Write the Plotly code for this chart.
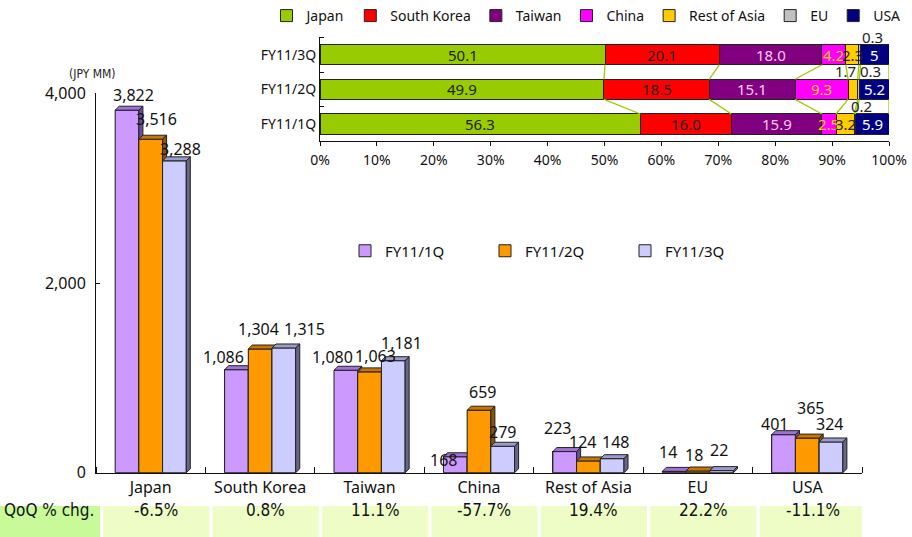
import plotly.graph_objects as go

# ---------------- data ----------------
regions = ["Japan", "South Korea", "Taiwan", "China", "Rest of Asia", "EU", "USA"]
quarters = ["FY11/1Q", "FY11/2Q", "FY11/3Q"]
sales_1q = [3822, 1086, 1080, 168, 223, 14, 401]
sales_2q = [3516, 1304, 1063, 659, 124, 18, 365]
sales_3q = [3288, 1315, 1181, 279, 148, 22, 324]
y_ticks = [0, 2000, 4000]
qoq_labels = ["-6.5%", "0.8%", "11.1%", "-57.7%", "19.4%", "22.2%", "-11.1%"]

# composition (%) per quarter: 1Q, 2Q, 3Q
share_japan = [56.3, 49.9, 50.1]
share_korea = [16.0, 18.5, 20.1]
share_taiwan = [15.9, 15.1, 18.0]
share_china = [2.5, 9.3, 4.2]
share_rest_asia = [3.2, 1.7, 2.3]
share_eu = [0.2, 0.3, 0.3]
share_usa = [5.9, 5.2, 5.0]
share_usa_text = ["5.9", "5.2", "5"]
pct_ticks = [0, 10, 20, 30, 40, 50, 60, 70, 80, 90, 100]

# label placement nudges (px) for the value labels of the main chart (style only)
label_dx = [[4, -15, -15, -14, -9, -8, -11],
            [4, -4, 4, 1, -8, -6, 1],
            [4, 19, 6, -2, 1, -5, -3]]
label_up = [[15, 13, 13, -3, 24, 19, 11],
            [20, 20, 16, 18, 19, 16, 30],
            [12, 19, 18, 14, 17, 21, 18]]

W, H = 912, 537
FONT = "Noto Sans, DejaVu Sans, sans-serif"
NARROW = "DejaVu Sans Condensed, Liberation Sans Narrow, sans-serif"

fig = go.Figure()

# ---------------- main 3D-look bar chart ----------------
series = [
    ("FY11/1Q", sales_1q, "#CC99FF", "#9E72D6", "#6A4C9C"),
    ("FY11/2Q", sales_2q, "#FF9900", "#C77700", "#8A5400"),
    ("FY11/3Q", sales_3q, "#CCCCFF", "#9C9CCC", "#66668C"),
]
bw = 0.2166          # bar width in category units
dx = 0.037           # depth (x) in category units
dy = 42              # depth (y) in data units
offsets = [-bw, 0.0, bw]

for (name, vals, cf, ct, cs), off in zip(series, offsets):
    xs = [j + off for j in range(len(regions))]
    fig.add_trace(go.Bar(
        x=xs, y=vals, width=bw, name=name, legend="legend",
        marker=dict(color=cf, line=dict(color="#222", width=1)),
        hoverinfo="skip"))

# faces drawn as polygons (per series in order so later fronts cover earlier sides)
for (name, vals, cf, ct, cs), off in zip(series, offsets):
    fx, fy, tx, ty, sx, sy = [], [], [], [], [], []
    for j, v in enumerate(vals):
        c = j + off
        l, r = c - bw / 2, c + bw / 2
        fx += [l, r, r, l, l, None]
        fy += [0, 0, v, v, 0, None]
        tx += [l, r, r + dx, l + dx, l, None]
        ty += [v, v, v + dy, v + dy, v, None]
        sx += [r, r + dx, r + dx, r, r, None]
        sy += [0, dy, v + dy, v, 0, None]
    for px, py, col in ((fx, fy, cf), (tx, ty, ct), (sx, sy, cs)):
        fig.add_trace(go.Scatter(
            x=px, y=py, mode="lines", fill="toself", fillcolor=col,
            line=dict(color="#222", width=1), showlegend=False, hoverinfo="skip"))

annotations = []
for si, ((name, vals, cf, ct, cs), off) in enumerate(zip(series, offsets)):
    for j, v in enumerate(vals):
        annotations.append(dict(
            x=j + off, y=v, xref="x", yref="y", text=f"{v:,}", showarrow=False,
            yanchor="middle", xshift=2 + label_dx[si][j], yshift=label_up[si][j],
            font=dict(size=16, color="#111", family=FONT)))

# ---------------- inset: composition stacked bars ----------------
comp = [
    ("Japan", share_japan, "#99CC00", "#222", [f"{v:.1f}" for v in share_japan]),
    ("South Korea", share_korea, "#FF0000", "#222", [f"{v:.1f}" for v in share_korea]),
    ("Taiwan", share_taiwan, "#800080", "#FFCCF0", [f"{v:.1f}" for v in share_taiwan]),
    ("China", share_china, "#FF00FF", "#FFD000", [f"{v:.1f}" for v in share_china]),
    ("Rest of Asia", share_rest_asia, "#FFCC00", "#222", [f"{v:.1f}" for v in share_rest_asia]),
    ("EU", share_eu, "#C0C0C0", "#222", [f"{v:.1f}" for v in share_eu]),
    ("USA", share_usa, "#000080", "#FFFFFF", share_usa_text),
]
rows = [0, 1, 2]
bh = 0.58
for name, vals, col, tcol, txt in comp:
    fig.add_trace(go.Bar(
        x=vals, y=rows, orientation="h", width=bh, name=name, legend="legend2",
        xaxis="x2", yaxis="y2",
        marker=dict(color=col, line=dict(color="#222", width=1)),
        hoverinfo="skip"))

# cumulative boundaries & connector lines
cums = []
run = [0.0, 0.0, 0.0]
for name, vals, col, tcol, txt in comp:
    starts = run[:]
    run = [a + b for a, b in zip(run, vals)]
    cums.append((starts, run[:]))

lx, ly = [], []
for r in (0, 1):
    for starts, ends in cums:
        lx += [ends[r], ends[r + 1], None]
        ly += [r + bh / 2, r + 1 - bh / 2, None]
fig.add_trace(go.Scatter(x=lx, y=ly, xaxis="x2", yaxis="y2", mode="lines",
                         line=dict(color="#99CC00", width=1.3),
                         showlegend=False, hoverinfo="skip"))

above = {("EU", 0): 7, ("EU", 1): 12, ("EU", 2): 13, ("Rest of Asia", 1): -7}
for (name, vals, col, tcol, txt), (starts, ends) in zip(comp, cums):
    for r in rows:
        cx = (starts[r] + ends[r]) / 2
        if (name, r) in above:
            annotations.append(dict(
                x=cx, y=r + bh / 2, xref="x2", yref="y2", text=txt[r],
                showarrow=False, yanchor="bottom", xshift=above[(name, r)], yshift=-4,
                font=dict(size=15, color="#222", family=FONT)))
        else:
            annotations.append(dict(
                x=cx, y=r, xref="x2", yref="y2", text=txt[r], showarrow=False,
                font=dict(size=15, color=tcol, family=FONT)))

# ---------------- QoQ table row ----------------
shapes = [dict(type="rect", xref="paper", yref="paper", x0=0, x1=100 / W,
               y0=0, y1=31 / H, fillcolor="#C8FA9A", line=dict(width=0), layer="below")]
annotations.append(dict(x=2 / W, y=15.5 / H, xref="paper", yref="paper", text="QoQ % chg.",
                        showarrow=False, xanchor="left",
                        font=dict(size=17, color="#111", family=NARROW)))
for j, t in enumerate(qoq_labels):
    shapes.append(dict(type="rect", xref="x", yref="paper", x0=j - 0.435, x1=j + 0.535,
                       y0=0, y1=31 / H, fillcolor="#EEFDC6", line=dict(width=0), layer="below"))
    annotations.append(dict(x=j + 0.05, y=15.5 / H, xref="x", yref="paper", text=t,
                            showarrow=False, font=dict(size=17, color="#111", family=NARROW)))

annotations.append(dict(x=67 / W, y=1 - 65 / H, xref="paper", yref="paper", text="(JPY MM)",
                        showarrow=False, font=dict(size=12, color="#222", family=NARROW)))

fig.update_layout(
    width=W, height=H, autosize=False,
    margin=dict(l=0, r=0, t=0, b=0, autoexpand=False),
    paper_bgcolor="white", plot_bgcolor="rgba(0,0,0,0)",
    barmode="stack", bargap=0,
    font=dict(family=FONT, size=15, color="#111"),
    showlegend=True,
    xaxis=dict(domain=[96 / W, 862 / W], range=[-0.5, 6.5], automargin=False,
               tickvals=list(range(len(regions))), ticktext=regions, ticks="",
               showline=True, linecolor="#111", linewidth=1, showgrid=False, zeroline=False,
               tickfont=dict(size=16),
               minor=dict(tickvals=[k + 0.5 for k in range(-1, len(regions))],
                          ticks="inside", ticklen=6, tickcolor="#111"),
               fixedrange=True),
    yaxis=dict(domain=[1 - 472.7 / H, 1 - 93.3 / H], range=[0, 4000], automargin=False,
               tickvals=y_ticks, tickformat=",", ticks="inside", ticklen=4,
               tickcolor="#111", showline=True, linecolor="#111", linewidth=1,
               showgrid=False, zeroline=False, tickfont=dict(size=16),
               ticklabelstandoff=6, fixedrange=True),
    xaxis2=dict(domain=[320 / W, 889 / W], range=[0, 100], anchor="y2", automargin=False,
                tickvals=pct_ticks, ticktext=[f"{v}%" for v in pct_ticks],
                ticks="outside", ticklen=4, ticklabelstandoff=2,
                tickcolor="#111", showline=True, linecolor="#111", showgrid=False,
                zeroline=False, tickfont=dict(size=14), fixedrange=True),
    yaxis2=dict(domain=[1 - 141.4 / H, 1 - 37.3 / H], range=[-0.5, 2.5], anchor="x2",
                automargin=False,
                tickvals=rows, ticktext=quarters, ticks="", showline=True,
                linecolor="#111", showgrid=False, zeroline=False,
                tickfont=dict(size=14),
                minor=dict(tickvals=[-0.5, 0.5, 1.5, 2.5], ticks="inside",
                           ticklen=4, tickcolor="#111"),
                fixedrange=True),
    legend=dict(orientation="h", x=345 / W, y=1 - 251 / H, xanchor="left", yanchor="middle",
                font=dict(size=15), entrywidth=95, traceorder="normal",
                bgcolor="rgba(0,0,0,0)"),
    legend2=dict(orientation="h", x=586 / W, y=1, xanchor="center", yanchor="top",
                 font=dict(size=14), traceorder="normal", bgcolor="rgba(0,0,0,0)",
                 itemwidth=30),
    shapes=shapes,
    annotations=annotations,
)

fig.write_html("out.html", config={"displayModeBar": False, "staticPlot": True},
               post_script="document.body.style.margin='0px';document.body.style.overflow='hidden';")
